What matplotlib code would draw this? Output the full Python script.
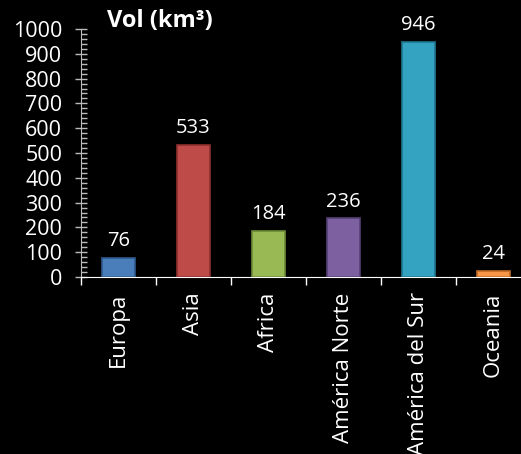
import matplotlib.pyplot as plt
from matplotlib.ticker import MultipleLocator

plt.rcParams['font.family'] = ['Open Sans', 'DejaVu Sans']

regions = ['Europa', 'Asia', 'Africa', 'América Norte', 'América del Sur', 'Oceania']
volumes = [76, 533, 184, 236, 946, 24]
colors = ['#4a7ebb', '#be4b48', '#98b954', '#7d60a0', '#34a3c1', '#f79646']
edges = ['#2f5a8c', '#8c2f2d', '#6c8a35', '#563f75', '#1f7690', '#c06a25']

fig = plt.figure(figsize=(5.21, 4.54), dpi=100, facecolor='black')
ax = fig.add_axes([81 / 521, 1 - 277 / 454, 450 / 521, 248 / 454])
ax.set_facecolor('black')

x = list(range(len(regions)))
ax.bar(x, volumes, width=0.43, color=colors, edgecolor=edges, linewidth=1.2)

for xi, v in zip(x, volumes):
    ax.annotate(str(v), (xi, v), xytext=(0, 5), textcoords='offset points',
                ha='center', va='bottom', color='white', fontsize=14.5)

ax.set_xlim(-0.5, 5.5)
ax.set_ylim(0, 1000)
ax.yaxis.set_major_locator(MultipleLocator(100))
ax.yaxis.set_minor_locator(MultipleLocator(20))

ax.set_xticks([i - 0.5 for i in x], minor=False)
ax.set_xticks(x, minor=True)
ax.set_xticklabels([])
ax.set_xticklabels(regions, minor=True, rotation=90, va='top', ha='center')
ax.tick_params(axis='x', which='major', direction='out', length=6, width=1, color='white')
ax.tick_params(axis='x', which='minor', length=0, pad=11, labelsize=16, labelcolor='white')
ax.tick_params(axis='y', which='major', direction='inout', length=9, width=1,
               color='#bbbbbb', labelsize=15.5, labelcolor='white', pad=9)
ax.tick_params(axis='y', which='minor', direction='in', length=4, width=1, color='#bbbbbb')

for s in ['top', 'right']:
    ax.spines[s].set_visible(False)
ax.spines['left'].set_color('#bbbbbb')
ax.spines['bottom'].set_color('white')

fig.text(107 / 521, 1 - 21 / 454, 'Vol (km³)', color='white', fontsize=17,
         fontweight='bold', ha='left', va='center')

fig.savefig('out.png', dpi=100, facecolor='black')
